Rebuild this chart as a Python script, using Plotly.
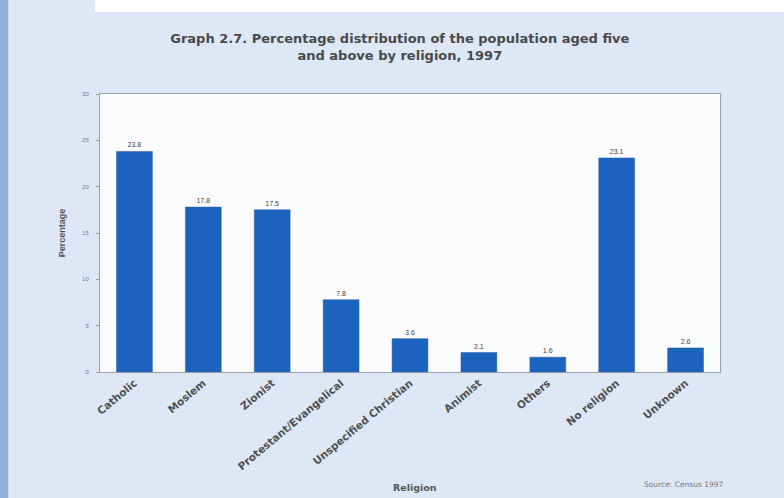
import plotly.graph_objects as go

categories = ["Catholic", "Moslem", "Zionist", "Protestant/Evangelical",
              "Unspecified Christian", "Animist", "Others", "No religion", "Unknown"]
values = [23.8, 17.8, 17.5, 7.8, 3.6, 2.1, 1.6, 23.1, 2.6]
value_labels = ["23.8", "17.8", "17.5", "7.8", "3.6", "2.1", "1.6", "23.1", "2.6"]
y_ticks = [0, 5, 10, 15, 20, 25, 30]

fig = go.Figure()
fig.add_trace(go.Bar(
    x=categories, y=values,
    marker=dict(color="#1c62bf", line=dict(color="#2a5aa0", width=0.5)),
    text=value_labels, textposition="outside",
    textfont=dict(size=7, color="#444444", family="Liberation Sans"),
    cliponaxis=False,
))

fig.update_layout(
    width=784, height=498,
    margin=dict(l=100, r=64, t=94, b=126),
    paper_bgcolor="#dde7f5",
    plot_bgcolor="#fbfcfe",
    bargap=0.48,
    showlegend=False,
    font=dict(family="Liberation Sans", color="#555555"),
    title=dict(
        text="<b>Graph 2.7. Percentage distribution of the population aged five<br>and above by religion, 1997</b>",
        x=0.51, xanchor="center", y=0.914, yanchor="middle",
        font=dict(size=13, color="#4a4a4a", family="DejaVu Sans"),
    ),
    xaxis=dict(
        tickangle=-40, showline=True, linecolor="#9aa0aa", linewidth=1, mirror=True,
        tickfont=dict(size=10.5, color="#505050", family="DejaVu Sans", weight="bold"),
        ticks="", title=None,
    ),
    yaxis=dict(
        range=[0, 30], tickvals=y_ticks, showgrid=False, zeroline=False,
        showline=True, linecolor="#9aa0aa", linewidth=1, mirror=True,
        ticks="outside", ticklen=3, tickcolor="#9aa0aa", ticklabelstandoff=6,
        tickfont=dict(size=6, color="#777777", family="Liberation Sans"),
        title=dict(text="<b>Percentage</b>", font=dict(size=9, color="#555555"), standoff=14),
    ),
    shapes=[
        dict(type="rect", xref="paper", yref="paper", x0=-0.008, x1=1.2, y0=1.295, y1=1.4,
             fillcolor="white", line=dict(width=0), layer="below"),
        dict(type="rect", xref="paper", yref="paper", x0=-0.162, x1=-0.148, y0=-0.5, y1=1.4,
             fillcolor="#8fb0de", line=dict(width=0), layer="below"),
    ],
    annotations=[
        dict(text="<b>Religion</b>", xref="paper", yref="paper", x=0.508, y=-0.417,
             xanchor="center", yanchor="middle", showarrow=False,
             font=dict(size=9.5, color="#555555", family="DejaVu Sans")),
        dict(text="Source: Census 1997", xref="paper", yref="paper", x=1.01, y=-0.405,
             xanchor="right", yanchor="middle", showarrow=False,
             font=dict(size=7.5, color="#777777", family="DejaVu Sans")),
    ],
)

fig.write_html("out.html")
